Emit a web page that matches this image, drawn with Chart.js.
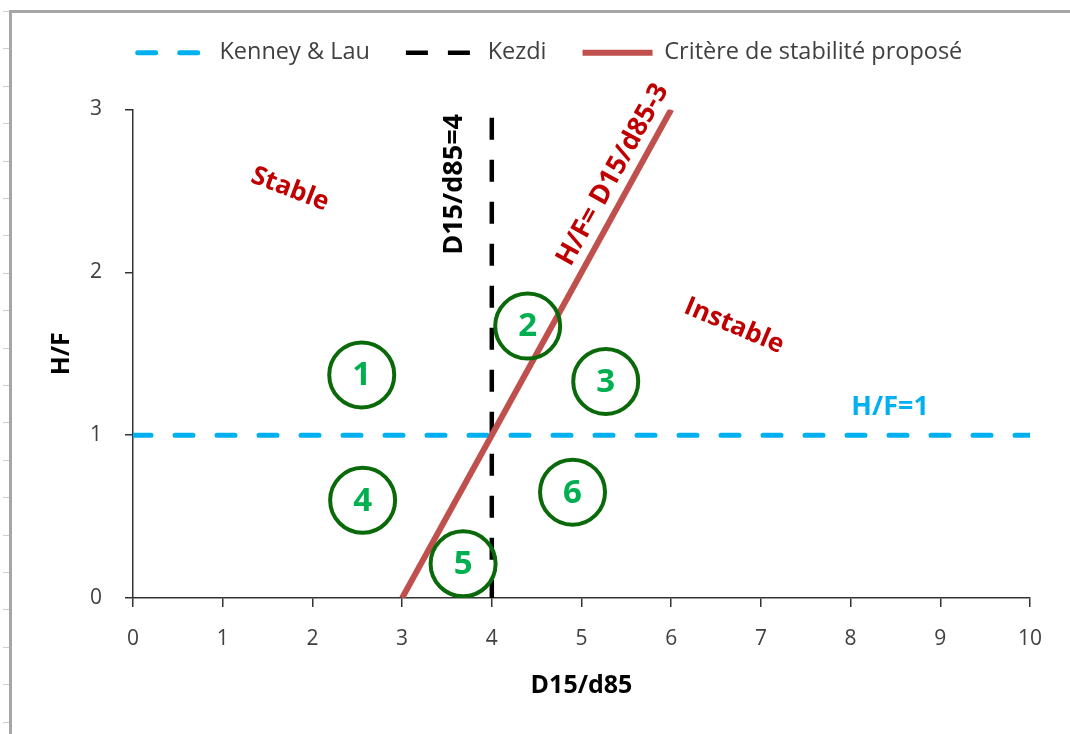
<!DOCTYPE html>
<html>
<head>
<meta charset="utf-8">
<script src="https://cdn.jsdelivr.net/npm/chart.js@4.4.0/dist/chart.umd.min.js"></script>
<style>
  html, body { margin: 0; padding: 0; background: #fff; }
  #wrap { position: relative; width: 1070px; height: 734px; overflow: hidden; }
  #frame { position: absolute; left: 9px; top: 10px; right: -5px; bottom: -5px;
           border-top: 3px solid #a6a6a6; border-left: 3px solid #a6a6a6; }
  #ruler { position: absolute; left: 3px; top: 11px; width: 6px; bottom: 0;
           background: repeating-linear-gradient(to bottom, #cfcfcf 0 1px, transparent 1px 37.4px); }
  canvas { position: absolute; left: 0; top: 0; }
</style>
</head>
<body>
<div id="wrap">
  <div id="frame"></div>
  <div id="ruler"></div>
  <canvas id="chart" width="1070" height="734"></canvas>
</div>
<script>
// Kenney & Lau limit (H/F = 1)
const kenneyX = [0, 10];
const kenneyY = [1, 1];
// Kezdi limit (D15/d85 = 4)
const kezdiX = [4, 4];
const kezdiY = [2.95, 0];
// proposed criterion H/F = D15/d85 - 3
const critereX = [3, 6];
const critereY = [0, 3];
// numbered zones (circles)
const zoneIds = ['1', '2', '3', '4', '5', '6'];
const zoneX = [2.55, 4.4, 5.27, 2.56, 3.68, 4.9];
const zoneY = [1.37, 1.67, 1.33, 0.6, 0.21, 0.65];
// axis ticks
const xTicks = [0, 1, 2, 3, 4, 5, 6, 7, 8, 9, 10];
const yTicks = [0, 1, 2, 3];

const toPoints = (xs, ys) => xs.map((v, i) => ({ x: v, y: ys[i] }));

// text notes placed in data units
const notes = [
    { text: 'Stable', x: 1.75, y: 2.51, angle: 21, color: '#c00000', size: 26 },
    { text: 'Instable', x: 6.7, y: 1.67, angle: 23, color: '#c00000', size: 26 },
    { text: 'H/F=1', x: 8.44, y: 1.17, angle: 0, color: '#00b0f0', size: 27 },
    { text: 'D15/d85=4', x: 3.58, y: 2.54, angle: -90, color: '#000000', size: 27 },
    { text: 'H/F= D15/d85-3', x: 5.35, y: 2.6, angle: null, color: '#c00000', size: 27 }
];

const FONT = '"Open Sans", "Liberation Sans", sans-serif';

const notesPlugin = {
    id: 'notes',
    afterDatasetsDraw(chart) {
        const { ctx } = chart;
        const xs = chart.scales.x, ys = chart.scales.y;
        ctx.save();
        ctx.textAlign = 'center';
        ctx.textBaseline = 'middle';

        // numbers inside the circles
        const meta = chart.getDatasetMeta(3);
        ctx.font = 'bold 33px ' + FONT;
        ctx.fillStyle = '#00b050';
        meta.data.forEach((pt, i) => ctx.fillText(zoneIds[i], pt.x, pt.y + 1));

        // angle of the criterion line on screen
        const dx = xs.getPixelForValue(critereX[1]) - xs.getPixelForValue(critereX[0]);
        const dy = ys.getPixelForValue(critereY[1]) - ys.getPixelForValue(critereY[0]);
        const lineAngle = Math.atan2(dy, dx);

        notes.forEach(n => {
            ctx.save();
            ctx.translate(xs.getPixelForValue(n.x), ys.getPixelForValue(n.y));
            ctx.rotate(n.angle === null ? lineAngle : n.angle * Math.PI / 180);
            ctx.font = 'bold ' + n.size + 'px ' + FONT;
            ctx.fillStyle = n.color;
            ctx.fillText(n.text, 0, 0);
            ctx.restore();
        });
        ctx.restore();
    }
};

const ctx = document.getElementById('chart').getContext('2d');
new Chart(ctx, {
    type: 'scatter',
    data: {
        datasets: [{
            label: 'Kenney & Lau',
            data: toPoints(kenneyX, kenneyY),
            showLine: true,
            borderColor: '#00b0f0',
            backgroundColor: '#00b0f0',
            borderWidth: 5,
            borderDash: [18, 24],
            borderCapStyle: 'round',
            pointRadius: 0,
            order: 3
        }, {
            label: 'Kezdi',
            data: toPoints(kezdiX, kezdiY),
            showLine: true,
            borderColor: '#000000',
            backgroundColor: '#000000',
            borderWidth: 4.5,
            borderDash: [22, 20],
            pointRadius: 0,
            order: 2
        }, {
            label: 'Critère de stabilité proposé',
            data: toPoints(critereX, critereY),
            showLine: true,
            borderColor: '#c0504d',
            backgroundColor: '#c0504d',
            borderWidth: 6,
            pointRadius: 0,
            order: 1
        }, {
            label: 'zones',
            data: toPoints(zoneX, zoneY),
            showLine: false,
            pointRadius: 32.5,
            pointHoverRadius: 32.5,
            pointBorderWidth: 4,
            pointBorderColor: '#0a6a0a',
            pointBackgroundColor: 'rgba(0,0,0,0)',
            order: 0
        }]
    },
    options: {
        responsive: false,
        animation: false,
        events: [],
        // left padding shifts the centred legend to the right, y axis width compensates
        layout: { padding: { top: 5, left: 70, right: 40, bottom: 0 } },
        plugins: {
            tooltip: { enabled: false },
            legend: {
                position: 'top',
                align: 'center',
                labels: {
                    usePointStyle: true,
                    pointStyleWidth: 70,
                    padding: 36,
                    color: '#404040',
                    font: { family: FONT, size: 23.5 },
                    generateLabels: chart => chart.data.datasets.slice(0, 3).map((ds, i) => ({
                        text: ds.label,
                        datasetIndex: i,
                        fillStyle: ds.borderColor,
                        strokeStyle: ds.borderColor,
                        lineWidth: ds.borderWidth,
                        lineDash: ds.borderDash || [],
                        lineCap: ds.borderCapStyle || 'butt',
                        pointStyle: 'line',
                        fontColor: '#404040',
                        hidden: false
                    }))
                }
            }
        },
        scales: {
            x: {
                type: 'linear',
                min: 0,
                max: 10,
                afterBuildTicks: s => { s.ticks = xTicks.map(v => ({ value: v })); },
                afterFit: s => { s.height = 136; },
                ticks: { color: '#404040', padding: 19, font: { family: FONT, size: 21 } },
                grid: { drawOnChartArea: false, drawTicks: true, tickLength: 9, color: '#333', lineWidth: 1.5 },
                border: { display: true, color: '#333', width: 1.5 },
                title: {
                    display: true,
                    text: 'D15/d85',
                    color: '#000',
                    font: { family: FONT, size: 25, weight: 'bold' },
                    padding: { top: 0, bottom: 33 }
                }
            },
            xTop: {
                type: 'linear',
                position: 'top',
                display: true,
                afterFit: s => { s.height = 35; },
                ticks: { display: false },
                grid: { display: false },
                border: { display: false }
            },
            y: {
                type: 'linear',
                min: 0,
                max: 3,
                afterBuildTicks: s => { s.ticks = yTicks.map(v => ({ value: v })); },
                afterFit: s => { s.width = 63; },
                ticks: { color: '#404040', padding: 23, font: { family: FONT, size: 21 } },
                grid: { drawOnChartArea: false, drawTicks: true, tickLength: 8, color: '#333', lineWidth: 1.5 },
                border: { display: true, color: '#333', width: 1.5 },
                title: {
                    display: true,
                    text: 'H/F',
                    color: '#000',
                    font: { family: FONT, size: 25, weight: 'bold' },
                    padding: { top: -23, bottom: 0 }
                }
            }
        }
    },
    plugins: [notesPlugin]
});
</script>
</body>
</html>
